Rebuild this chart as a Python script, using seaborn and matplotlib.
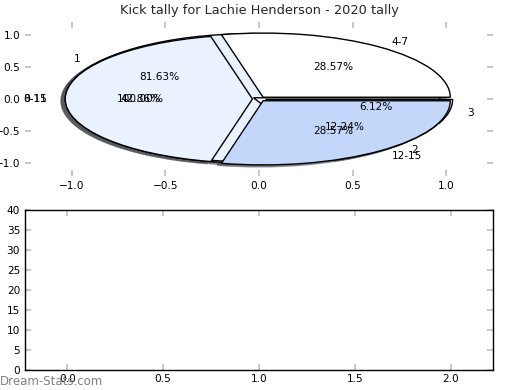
import numpy as np
import matplotlib
matplotlib.use("Agg")
import matplotlib.pyplot as plt
import seaborn as sns

# data
title = "Kick tally for Lachie Henderson - 2020 tally"
total_labels = ["0-15"]
total_values = [49]
score_labels = ["1", "2", "3"]
score_values = [40, 6, 3]
range_labels = ["4-7", "8-11", "12-15"]
range_values = [2, 3, 2]
pie_ticks = [-1.0, -0.5, 0.0, 0.5, 1.0]
bottom_xticks = [0.0, 0.5, 1.0, 1.5, 2.0]
bottom_yticks = list(range(0, 41, 5))

light = "#eaf1ff"
mid = "#c3d7fb"

sns.set_theme(style="white", rc={
    "axes.edgecolor": "black",
    "axes.linewidth": 1.0,
    "xtick.direction": "in",
    "ytick.direction": "in",
    "xtick.color": "#c0c0c0",
    "ytick.color": "#c0c0c0",
    "xtick.labelcolor": "black",
    "ytick.labelcolor": "black",
    "xtick.top": True,
    "ytick.right": True,
    "xtick.bottom": True,
    "ytick.left": True,
    "xtick.major.size": 4,
    "ytick.major.size": 4,
    "xtick.labelsize": 7.6,
    "ytick.labelsize": 7.6,
})
plt.rcParams["font.family"] = ["DejaVu Sans"]

fig = plt.figure(figsize=(5.2, 3.9), dpi=100)
ax1 = fig.add_axes([25 / 520, 1 - 176 / 390, 468 / 520, 154 / 390])
ax2 = fig.add_axes([25 / 520, 1 - 369.5 / 390, 468 / 520, 159.5 / 390])

wp = {"edgecolor": "black", "linewidth": 1.0}
tp = {"fontsize": 7.6, "color": "black"}
shade = {"ox": -0.016, "oy": -0.022}
gap = 0.035

# three pies drawn onto the same axes, as in the original
ax1.pie(total_values, labels=total_labels, colors=["white"], autopct="%1.2f%%",
        explode=[gap], shadow=shade, wedgeprops=wp, textprops=tp, frame=True)
ax1.pie(score_values, labels=score_labels, colors=[light, mid, "white"],
        autopct="%1.2f%%", explode=[gap] * 3, shadow=shade, wedgeprops=wp,
        textprops=tp, frame=True)
ax1.pie(range_values, labels=range_labels, colors=["white", light, mid],
        autopct="%1.2f%%", explode=[gap] * 3, shadow=shade, wedgeprops=wp,
        textprops=tp, frame=True)

ax1.set_aspect("auto")
ax1.set_xlim(-1.25, 1.25)
ax1.set_ylim(-1.2, 1.2)
ax1.set_xticks(pie_ticks)
ax1.set_yticks(pie_ticks)
ax1.set_frame_on(False)
ax1.set_title(title, fontsize=9.25)

ax2.set_xlim(-0.22, 2.22)
ax2.set_ylim(0, 40)
ax2.set_xticks(bottom_xticks)
ax2.set_yticks(bottom_yticks)
for s in ax2.spines.values():
    s.set_color("black")
    s.set_linewidth(1.0)

fig.text(0.0, 0.005, "Dream-Stats.com", color="#808080", fontsize=8.5,
         ha="left", va="bottom")

fig.savefig("out.png", dpi=100)
